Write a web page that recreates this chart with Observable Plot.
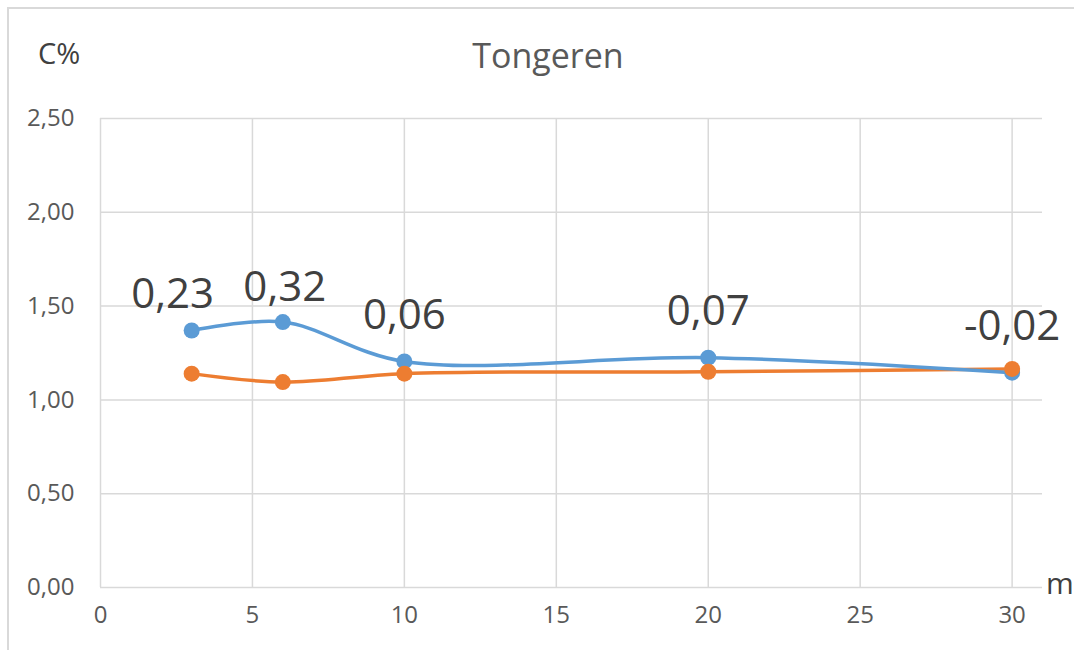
<!DOCTYPE html>
<html>
<head>
<meta charset="utf-8">
<script src="https://cdn.jsdelivr.net/npm/d3@7"></script>
<script src="https://cdn.jsdelivr.net/npm/@observablehq/plot@0.6"></script>
<style>
  html, body { margin: 0; padding: 0; background: #fff; }
  #wrap { position: relative; width: 1074px; height: 650px; overflow: hidden; font-family: "Open Sans", "Liberation Sans", sans-serif; }
  #border { position: absolute; left: 7px; top: 7px; width: 1200px; height: 800px; border: 2px solid #d9d9d9; box-sizing: border-box; }
  #title { position: absolute; left: 0; width: 1096px; top: 32px; text-align: center; font-size: 34px; color: #595959; }
  #ylab { position: absolute; left: 38px; top: 33px; font-size: 29px; color: #404040; }
  #xlab { position: absolute; left: 1046px; top: 562px; font-size: 30px; color: #404040; }
  #chart { position: absolute; left: 0; top: 0; }
</style>
</head>
<body>
<div id="wrap">
  <div id="border"></div>
  <div id="chart"></div>
  <div id="title">Tongeren</div>
  <div id="ylab">C%</div>
  <div id="xlab">m</div>
</div>
<script>
const depths = [3, 6, 10, 20, 30];
const blueValues = [1.37, 1.415, 1.205, 1.225, 1.145];
const orangeValues = [1.14, 1.095, 1.14, 1.15, 1.165];
const diffLabels = ["0,23", "0,32", "0,06", "0,07", "-0,02"];
const xTicks = [0, 5, 10, 15, 20, 25, 30];
const yTicks = [0, 0.5, 1, 1.5, 2, 2.5];

const blue = depths.map((d, i) => ({x: d, y: blueValues[i], label: diffLabels[i], i}));
const orange = depths.map((d, i) => ({x: d, y: orangeValues[i]}));
const fmt = v => d3.format(".2f")(v).replace(".", ",");

const chart = Plot.plot({
  width: 1074,
  height: 650,
  marginLeft: 100,
  marginRight: 32,
  marginTop: 118,
  marginBottom: 63,
  style: {fontFamily: "'Open Sans', 'Liberation Sans', sans-serif", background: "transparent"},
  x: {domain: [0, 31], ticks: xTicks, tickSize: 0, tickPadding: 24, label: null},
  y: {domain: [0, 2.5], ticks: yTicks, tickSize: 0, tickPadding: 24, label: null, tickFormat: fmt},
  marks: [
    Plot.gridY(yTicks, {stroke: "#d9d9d9", strokeOpacity: 1, strokeWidth: 1.5}),
    Plot.gridX(xTicks, {stroke: "#d9d9d9", strokeOpacity: 1, strokeWidth: 1.5}),
    Plot.axisX({ticks: xTicks, tickSize: 0, tickPadding: 18, fontSize: 24, fill: "#595959", label: null}),
    Plot.axisY({ticks: yTicks, tickSize: 0, tickPadding: 26, fontSize: 24, fill: "#595959", label: null, tickFormat: fmt}),
    Plot.line(orange, {x: "x", y: "y", stroke: "#ED7D31", strokeWidth: 3.5, curve: "catmull-rom"}),
    Plot.line(blue, {x: "x", y: "y", stroke: "#5B9BD5", strokeWidth: 3.5, curve: "catmull-rom"}),
    Plot.dot(blue, {x: "x", y: "y", r: 8, fill: "#5B9BD5"}),
    Plot.dot(orange, {x: "x", y: "y", r: 8, fill: "#ED7D31"}),
    Plot.text(blue.filter(d => d.i === 0), {x: "x", y: "y", text: "label", dx: -19, dy: -36, fontSize: 42, fill: "#404040"}),
    Plot.text(blue.filter(d => d.i === 1), {x: "x", y: "y", text: "label", dx: 2, dy: -34, fontSize: 42, fill: "#404040"}),
    Plot.text(blue.filter(d => d.i >= 2), {x: "x", y: "y", text: "label", dy: -46, fontSize: 42, fill: "#404040"})
  ]
});
document.getElementById("chart").appendChild(chart);
</script>
</body>
</html>
